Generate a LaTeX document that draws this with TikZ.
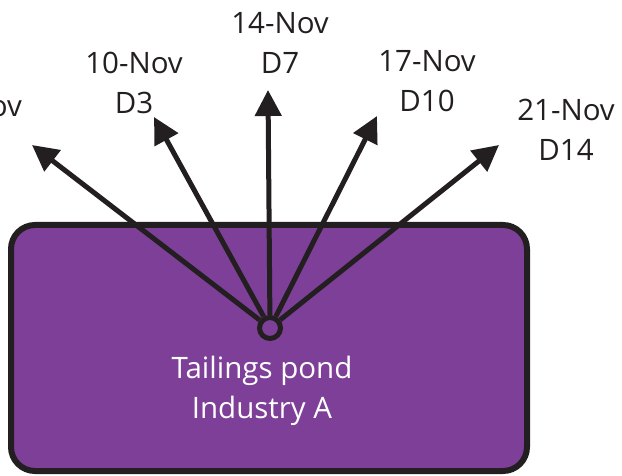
\documentclass[tikz,border=0pt]{standalone}
\usepackage{fontspec}
\setmainfont{Open Sans}
\usetikzlibrary{arrows.meta}
\definecolor{pondpurple}{RGB}{126,63,152}
\definecolor{inkblack}{RGB}{35,31,32}

\begin{document}
\begin{tikzpicture}[x=1pt,y=-1pt,
  daylabel/.style={align=center,font=\fontsize{29.5}{40}\selectfont,text=inkblack},
  samplearrow/.style={line width=5pt,draw=inkblack,-{Triangle[length=26pt,width=26pt]}}]
\useasboundingbox (0,0) rectangle (622,476);

% pond
\draw[line width=6pt,draw=inkblack,fill=pondpurple,rounded corners=24pt] (11,225) rectangle (527,471);
\node[daylabel,text=white] (pond) at (262,391) {Tailings pond\\Industry A};
\node[draw=inkblack,line width=5pt,circle,minimum size=21pt,inner sep=0pt] (outlet) at (270,328) {};

% arrow tips
\coordinate (t0) at (32,145);
\coordinate (t3) at (154,117);
\coordinate (t7) at (268,90);
\coordinate (t10) at (377,116);
\coordinate (t14) at (499,145);

\foreach \t in {t0,t3,t7,t10,t14}
  \draw[samplearrow] (outlet) -- (\t);

% sampling days
\node[daylabel,anchor=base east,inner sep=0pt] (d0) at (22,117) {ov};
\node[daylabel] (d3) at (134,83) {10-Nov\\D3};
\node[daylabel] (d7) at (280,43) {14-Nov\\D7};
\node[daylabel] (d10) at (427,81) {17-Nov\\D10};
\node[daylabel] (d14) at (566,130) {21-Nov\\D14};
\end{tikzpicture}
\end{document}
